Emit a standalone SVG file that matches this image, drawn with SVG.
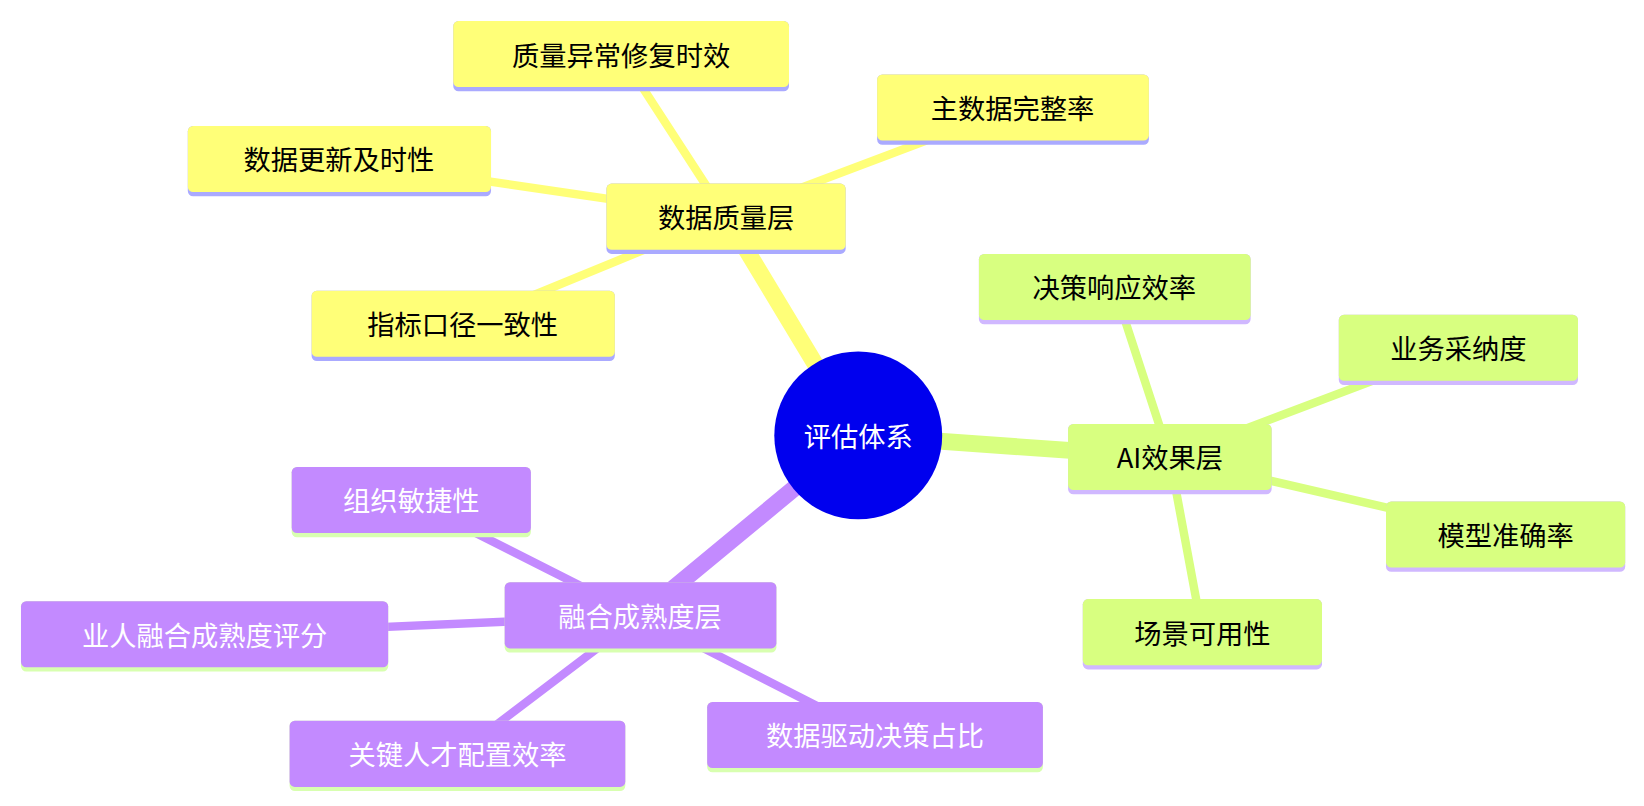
<svg xmlns="http://www.w3.org/2000/svg" width="1644" height="806" viewBox="0 0 1644 806">
<style>
text{font-family:"Noto Sans CJK SC","Noto Sans",sans-serif;font-size:26px;text-anchor:middle;dominant-baseline:central}
.y rect.b{fill:#ffff78}.y rect.u{fill:#aaaaff}.y text{fill:#000}
.g rect.b{fill:#d8ff80}.g rect.u{fill:#d0b8ff}.g text{fill:#000}
.p rect.b{fill:#c38aff}.p rect.u{fill:#d8ffb0}.p text{fill:#fff}
.ey{stroke:#ffff78}.eg{stroke:#d8ff80}.ep{stroke:#c38aff}
line{stroke-linecap:round}
</style>
<g transform="scale(1.0492)">
<g id="connectors" fill="none">
<line class="ey" x1="818" y1="415" x2="692" y2="206" stroke-width="16"/>
<line class="ey" x1="692" y1="206" x2="592" y2="52" stroke-width="8"/>
<line class="ey" x1="692" y1="206" x2="965" y2="103" stroke-width="8"/>
<line class="ey" x1="692" y1="206" x2="323" y2="152" stroke-width="8"/>
<line class="ey" x1="692" y1="206" x2="441" y2="309" stroke-width="8"/>
<line class="eg" x1="818" y1="415" x2="1115" y2="436" stroke-width="16"/>
<line class="eg" x1="1115" y1="436" x2="1062" y2="274" stroke-width="8"/>
<line class="eg" x1="1115" y1="436" x2="1390" y2="332" stroke-width="8"/>
<line class="eg" x1="1115" y1="436" x2="1435" y2="510" stroke-width="8"/>
<line class="eg" x1="1115" y1="436" x2="1146" y2="603" stroke-width="8"/>
<line class="ep" x1="818" y1="415" x2="610" y2="587" stroke-width="16"/>
<line class="ep" x1="610" y1="587" x2="392" y2="477" stroke-width="8"/>
<line class="ep" x1="610" y1="587" x2="195" y2="605" stroke-width="8"/>
<line class="ep" x1="610" y1="587" x2="436" y2="719" stroke-width="8"/>
<line class="ep" x1="610" y1="587" x2="834" y2="701" stroke-width="8"/>
</g>
<g id="root"><circle cx="818" cy="415" r="80" fill="#0000ee"/><text x="818" y="415" fill="#fff" font-size="28">评估体系</text></g>
<g id="n1" class="y"><rect class="u" x="578" y="175" width="228" height="67" rx="5"/><rect class="b" x="578" y="175" width="228" height="63" rx="5"/><text x="692" y="206">数据质量层</text></g>
<g id="n2" class="y"><rect class="u" x="432" y="20" width="320" height="67" rx="5"/><rect class="b" x="432" y="20" width="320" height="63" rx="5"/><text x="592" y="51">质量异常修复时效</text></g>
<g id="n3" class="y"><rect class="u" x="836" y="71" width="259" height="67" rx="5"/><rect class="b" x="836" y="71" width="259" height="63" rx="5"/><text x="965" y="102">主数据完整率</text></g>
<g id="n4" class="y"><rect class="u" x="179" y="120" width="289" height="67" rx="5"/><rect class="b" x="179" y="120" width="289" height="63" rx="5"/><text x="323" y="151">数据更新及时性</text></g>
<g id="n5" class="y"><rect class="u" x="297" y="277" width="289" height="67" rx="5"/><rect class="b" x="297" y="277" width="289" height="63" rx="5"/><text x="441" y="308">指标口径一致性</text></g>
<g id="n6" class="g"><rect class="u" x="1018" y="404" width="194" height="67" rx="5"/><rect class="b" x="1018" y="404" width="194" height="63" rx="5"/><text x="1115" y="435">AI效果层</text></g>
<g id="n7" class="g"><rect class="u" x="933" y="242" width="259" height="67" rx="5"/><rect class="b" x="933" y="242" width="259" height="63" rx="5"/><text x="1062" y="273">决策响应效率</text></g>
<g id="n8" class="g"><rect class="u" x="1276" y="300" width="228" height="67" rx="5"/><rect class="b" x="1276" y="300" width="228" height="63" rx="5"/><text x="1390" y="331">业务采纳度</text></g>
<g id="n9" class="g"><rect class="u" x="1321" y="478" width="228" height="67" rx="5"/><rect class="b" x="1321" y="478" width="228" height="63" rx="5"/><text x="1435" y="509">模型准确率</text></g>
<g id="n10" class="g"><rect class="u" x="1032" y="571" width="228" height="67" rx="5"/><rect class="b" x="1032" y="571" width="228" height="63" rx="5"/><text x="1146" y="602">场景可用性</text></g>
<g id="n11" class="p"><rect class="u" x="481" y="555" width="259" height="67" rx="5"/><rect class="b" x="481" y="555" width="259" height="63" rx="5"/><text x="610" y="586">融合成熟度层</text></g>
<g id="n12" class="p"><rect class="u" x="278" y="445" width="228" height="67" rx="5"/><rect class="b" x="278" y="445" width="228" height="63" rx="5"/><text x="392" y="476">组织敏捷性</text></g>
<g id="n13" class="p"><rect class="u" x="20" y="573" width="350" height="67" rx="5"/><rect class="b" x="20" y="573" width="350" height="63" rx="5"/><text x="195" y="604">业人融合成熟度评分</text></g>
<g id="n14" class="p"><rect class="u" x="276" y="687" width="320" height="67" rx="5"/><rect class="b" x="276" y="687" width="320" height="63" rx="5"/><text x="436" y="718">关键人才配置效率</text></g>
<g id="n15" class="p"><rect class="u" x="674" y="669" width="320" height="67" rx="5"/><rect class="b" x="674" y="669" width="320" height="63" rx="5"/><text x="834" y="700">数据驱动决策占比</text></g>
</g>
</svg>
